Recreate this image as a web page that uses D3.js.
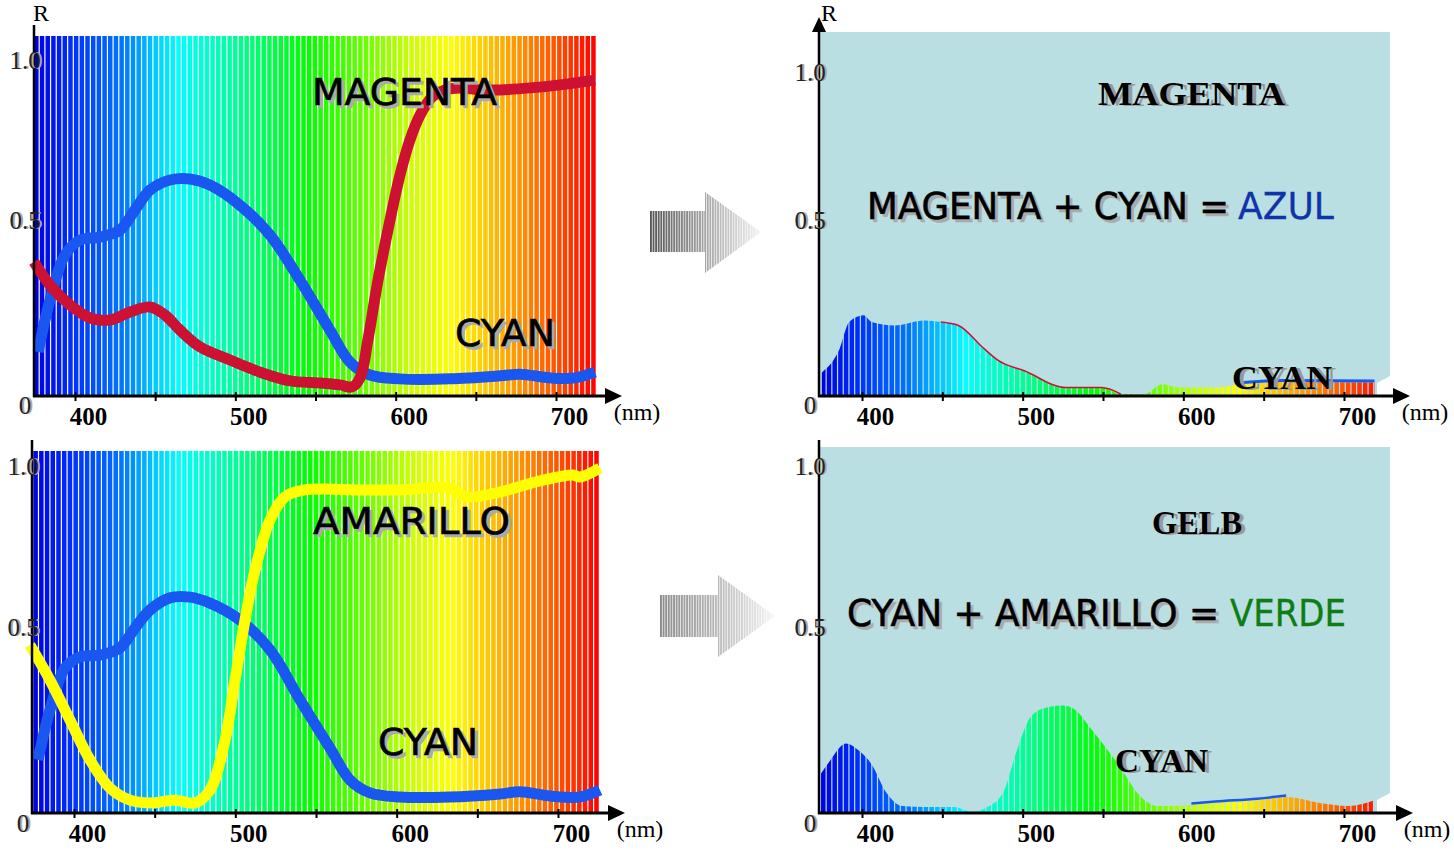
<!DOCTYPE html>
<html><head><meta charset="utf-8">
<script src="https://cdn.jsdelivr.net/npm/d3@7"></script>
<style>body{margin:0;background:#fff}svg{display:block}</style>
</head><body>
<svg id="c" width="1454" height="850"></svg>
<script>
// ---------------- data ----------------
const xTicks = [400, 450, 500, 550, 600, 650, 700];
const xLabelValues = [400, 500, 600, 700];
const yTickValues = [0, 0.5, 1.0];
const yTickLabels = ["0", "0.5", "1.0"];

// top-left: cyan and magenta reflectance
const cyanTopNm = [377, 384.4, 393.8, 403.1, 415.6, 428.1, 437.4, 446.8, 459.3, 471.7, 484.2, 502.9, 521.6, 540.3, 559, 571.5, 584, 602.7, 633.9, 665.1, 677.6, 696.3, 711.9, 724.3];
const cyanTopR  = [0.131, 0.286, 0.42, 0.464, 0.473, 0.494, 0.554, 0.613, 0.643, 0.646, 0.628, 0.568, 0.479, 0.345, 0.196, 0.101, 0.0625, 0.051, 0.051, 0.06, 0.065, 0.054, 0.054, 0.071];
const magentaNm = [374.4, 384.4, 396.9, 409.4, 421.8, 434.3, 446.8, 456.1, 465.5, 478, 496.7, 515.4, 534.1, 552.8, 565.3, 572.8, 577.8, 582.7, 589, 596.5, 602.7, 608.9, 615.2, 622.7, 630.8, 640.1, 652.6, 665.1, 683.8, 702.5, 724.3];
const magentaR  = [0.399, 0.33, 0.271, 0.232, 0.226, 0.25, 0.265, 0.241, 0.196, 0.146, 0.107, 0.071, 0.045, 0.039, 0.033, 0.027, 0.054, 0.167, 0.345, 0.524, 0.658, 0.762, 0.836, 0.89, 0.911, 0.917, 0.911, 0.911, 0.917, 0.926, 0.94];

// bottom-left: cyan and yellow (amarillo) reflectance
const cyanBotNm = [377.7, 385.1, 394.4, 403.7, 416.1, 428.5, 437.8, 447.1, 459.5, 471.9, 484.3, 502.9, 521.5, 540.1, 558.7, 571.1, 583.5, 602.1, 633.1, 664, 676.4, 695, 713.6, 726];
const cyanBotR  = [0.153, 0.297, 0.418, 0.45, 0.455, 0.476, 0.533, 0.585, 0.62, 0.622, 0.605, 0.556, 0.47, 0.326, 0.187, 0.095, 0.058, 0.046, 0.046, 0.055, 0.061, 0.049, 0.046, 0.066];
const yellowNm  = [372.7, 385.1, 397.5, 409.9, 422.3, 434.7, 447.1, 462.6, 475, 484.3, 493.6, 499.8, 506, 512.2, 521.5, 530.8, 543.2, 577.3, 602.1, 620.7, 631.2, 643.6, 664, 688.8, 709.3, 713.6, 726];
const yellowR   = [0.484, 0.383, 0.268, 0.153, 0.072, 0.037, 0.029, 0.037, 0.029, 0.066, 0.21, 0.383, 0.556, 0.7, 0.844, 0.911, 0.931, 0.931, 0.931, 0.937, 0.939, 0.911, 0.925, 0.957, 0.974, 0.968, 0.994];

// top-right: magenta + cyan result
const blueResNm = [375, 386, 392, 401, 406, 420, 439, 449, 460, 475, 485, 501, 527, 549, 561, 576, 587, 597, 620, 636, 662, 719];
const blueResR  = [0.07, 0.14, 0.22, 0.24, 0.22, 0.21, 0.225, 0.22, 0.21, 0.145, 0.105, 0.075, 0.025, 0.025, 0.006, 0.006, 0.035, 0.025, 0.025, 0.035, 0.042, 0.04];

// bottom-right: cyan + yellow result
const greenResNm = [374, 380, 390, 398, 406, 415, 425, 439, 457, 469, 478, 488, 496, 504, 512, 525, 532, 543, 558, 574, 584, 594, 605, 620, 646, 664, 685, 703, 718];
const greenResR  = [0.11, 0.15, 0.2, 0.18, 0.14, 0.06, 0.02, 0.017, 0.017, 0.003, 0.017, 0.06, 0.175, 0.27, 0.3, 0.31, 0.3, 0.24, 0.15, 0.045, 0.02, 0.02, 0.023, 0.029, 0.037, 0.046, 0.029, 0.02, 0.035];

// spectrum colour stops (style)
const spectrumNm    = [375, 400, 430, 455, 465, 500, 545, 580, 610, 635, 655, 675, 700, 725];
const spectrumColor = ["#0000e0","#0033ff","#0077ff","#00ddff","#00ffff","#00ff99","#00ff00","#66ff00","#ccff00","#ffff00","#ffcc00","#ff9900","#ff5500","#ff0000"];

// ---------------- drawing ----------------
const svg = d3.select("#c");
const spec = d3.scaleLinear().domain(spectrumNm).range(spectrumColor).interpolate(d3.interpolateRgb).clamp(true);
const SERIF = "'Liberation Serif','Times New Roman',serif";
const COMIC = "'DejaVu Sans','Noto Sans',sans-serif";
const CYANC = "#1a56f0", MAGC = "#cc1133", YELC = "#ffff00", BG = "#b9dfe3";

const zip = (a, b) => a.map((v, i) => [v, b[i]]);

const panels = [
  {id:"tl", axisX:34,  axisY:396, xr:[75,556],   y1:60,  tip:622,  yTop:25,  yArrow:false, lshift:[9,-8,0],   rX:41,  rY:13, nmX:637},
  {id:"bl", axisX:32,  axisY:813, xr:[74,558],   y1:466, tip:625,  yTop:440, yArrow:false, lshift:[10,-12,0], nmX:640},
  {id:"tr", axisX:819, axisY:396, xr:[862,1344], y1:60,  tip:1410, yTop:17,  yArrow:true,  lshift:[9,-8,12],  rX:829, rY:13, nmX:1425},
  {id:"br", axisX:819, axisY:813, xr:[862,1344], y1:466, tip:1413, yTop:440, yArrow:false, lshift:[10,-12,0], nmX:1427}
];
panels.forEach(p => {
  p.x = d3.scaleLinear().domain([400,700]).range(p.xr);
  p.y = d3.scaleLinear().domain([0,1]).range([p.axisY, p.y1]);
});
const P = Object.fromEntries(panels.map(p => [p.id, p]));

function stripes(g, p, nm0, nm1, yT, yB) {
  const x0 = p.x(nm0), x1 = p.x(nm1);
  const n = Math.round((x1 - x0) / 5.7), w = (x1 - x0) / n;
  g.selectAll(null).data(d3.range(n)).join("rect")
    .attr("x", i => x0 + i * w).attr("y", yT)
    .attr("width", w - 1.2).attr("height", yB - yT)
    .attr("fill", i => spec(p.x.invert(x0 + (i + 0.5) * w)));
}

function shadowText(opt) {
  const g = svg.append("g");
  const mk = (dx, dy, fill) => {
    const t = g.append("text").attr("x", opt.x + dx).attr("y", opt.cy + dy + opt.size * 0.36)
      .attr("font-family", opt.family).attr("font-size", opt.size)
      .attr("font-weight", opt.weight || "normal").attr("fill", fill)
      .attr("text-anchor", opt.anchor || "start").text(opt.text);
    if (opt.width) t.attr("textLength", opt.width).attr("lengthAdjust", "spacingAndGlyphs");
    if (opt.stroke && fill !== opt.shadowColor) t.attr("stroke", fill).attr("stroke-width", opt.stroke);
    if (opt.stroke && fill === opt.shadowColor) t.attr("stroke", fill).attr("stroke-width", opt.stroke);
    return t;
  };
  if (opt.shadow) mk(opt.shadow[0], opt.shadow[1], opt.shadowColor || "#aaa");
  mk(0, 0, opt.fill || "#000");
}

// --- left panels: spectrum backgrounds ---
stripes(svg.append("g"), P.tl, 374.5, 725.5, 36, P.tl.axisY);
stripes(svg.append("g"), P.bl, 374.8, 726, 451, P.bl.axisY);

// --- right panels: light blue backgrounds ---
function bgPoly(p, top, right) {
  const pts = [[p.axisX, top],[right, top],[right, p.axisY - 20],[right - 13, p.axisY - 13],[right - 13, p.axisY],[p.axisX, p.axisY]];
  svg.append("polygon").attr("points", pts.map(d => d.join(",")).join(" ")).attr("fill", BG);
}
bgPoly(P.tr, 32, 1390);
bgPoly(P.br, 447, 1390);

// --- right panels: result areas filled with the spectrum ---
function resultArea(p, nm, r, id) {
  const data = zip(nm, r);
  const area = d3.area().x(d => p.x(d[0])).y0(p.axisY).y1(d => p.y(d[1])).curve(d3.curveMonotoneX);
  svg.append("clipPath").attr("id", id).append("path").attr("d", area(data));
  const g = svg.append("g").attr("clip-path", `url(#${id})`);
  stripes(g, p, 374.5, 726, p.y1, p.axisY);
  return data;
}
const blueData = resultArea(P.tr, blueResNm, blueResR, "clipTR");
const greenData = resultArea(P.br, greenResNm, greenResR, "clipBR");
// thin edge lines where original curves show at the top
const edge = p => d3.line().x(d => p.x(d[0])).y(d => p.y(d[1])).curve(d3.curveMonotoneX);
svg.append("path").attr("d", edge(P.tr)(blueData.filter(d => d[0] >= 449 && d[0] <= 561)))
  .attr("fill","none").attr("stroke", MAGC).attr("stroke-width", 1.5);
svg.append("path").attr("d", edge(P.tr)(blueData.filter(d => d[0] >= 636)))
  .attr("fill","none").attr("stroke", CYANC).attr("stroke-width", 3).attr("transform","translate(0,-1.5)");
svg.append("path").attr("d", edge(P.br)(greenData.filter(d => d[0] >= 605 && d[0] <= 664)))
  .attr("fill","none").attr("stroke", CYANC).attr("stroke-width", 2.5).attr("transform","translate(0,-1.5)");

// --- left panels: thick curves ---
function curve(p, nm, r, color) {
  const line = d3.line().x(d => p.x(d[0])).y(d => p.y(d[1])).curve(d3.curveCatmullRom.alpha(0.5));
  svg.append("path").attr("d", line(zip(nm, r))).attr("fill","none")
    .attr("stroke", color).attr("stroke-width", 11).attr("stroke-linejoin","round").attr("stroke-linecap","butt");
}
curve(P.tl, cyanTopNm, cyanTopR, CYANC);
curve(P.tl, magentaNm, magentaR, MAGC);
curve(P.bl, cyanBotNm, cyanBotR, CYANC);
curve(P.bl, yellowNm, yellowR, YELC);

// --- axes ---
panels.forEach(p => {
  // y axis line
  svg.append("line").attr("x1", p.axisX).attr("x2", p.axisX)
    .attr("y1", p.yArrow ? p.yTop + 12 : p.yTop).attr("y2", p.axisY + 1)
    .attr("stroke", "#000").attr("stroke-width", 2.5);
  if (p.yArrow) svg.append("polygon")
    .attr("points", `${p.axisX},${p.yTop} ${p.axisX-7},${p.yTop+15} ${p.axisX+7},${p.yTop+15}`).attr("fill","#000");
  // x axis line + arrow
  svg.append("line").attr("x1", p.axisX - 1).attr("x2", p.tip - 12).attr("y1", p.axisY).attr("y2", p.axisY)
    .attr("stroke", "#000").attr("stroke-width", 3);
  svg.append("polygon")
    .attr("points", `${p.tip},${p.axisY} ${p.tip-17},${p.axisY-8} ${p.tip-17},${p.axisY+8}`).attr("fill","#000");
  // ticks & labels via d3 axis
  const g = svg.append("g").attr("transform", `translate(0,${p.axisY})`);
  g.call(d3.axisBottom(p.x).tickValues(xTicks).tickSize(0)
    .tickFormat(d => xLabelValues.includes(d) ? String(d) : ""));
  g.select(".domain").remove();
  g.selectAll(".tick line").attr("y1", -4).attr("y2", 5).attr("stroke", "#000").attr("stroke-width", 2);
  g.selectAll(".tick text").attr("x", 13).attr("y", 20).attr("dy", "0.35em")
    .attr("font-family", SERIF).attr("font-size", 25).attr("font-weight", "bold").attr("fill", "#000");
  // (nm)
  svg.append("text").attr("x", p.nmX).attr("y", p.axisY + 16).attr("dy","0.35em")
    .attr("text-anchor","middle").attr("font-family", SERIF).attr("font-size", 24).text("(nm)");
  // y labels
  yTickValues.forEach((v, i) => {
    const cy = p.y(v) + p.lshift[i];
    [["#aaa", 2], ["#222", 0]].forEach(([c, dx]) => {
      svg.append("text").attr("x", p.axisX - 9 + dx).attr("y", cy).attr("dy", "0.35em")
        .attr("text-anchor", "middle").attr("font-family", SERIF).attr("font-size", 25)
        .attr("fill", c).text(yTickLabels[i]);
    });
  });
  if (p.rX) svg.append("text").attr("x", p.rX).attr("y", p.rY).attr("dy","0.35em")
    .attr("text-anchor","middle").attr("font-family", SERIF).attr("font-size", 24).text("R");
});

// --- labels ---
const comic = {family: COMIC, size: 37, shadow: [3, 3], shadowColor: "#aaa", stroke: 0.6};
shadowText({...comic, x: 312, cy: 92,  text: "MAGENTA", width: 185});
shadowText({...comic, x: 455, cy: 333, text: "CYAN", width: 100});
shadowText({...comic, x: 313, cy: 521, text: "AMARILLO", width: 197});
shadowText({...comic, x: 378, cy: 742, text: "CYAN", width: 100});
shadowText({...comic, x: 867, cy: 206, text: "MAGENTA + CYAN =", width: 362});
shadowText({...comic, x: 1238, cy: 206, text: "AZUL", width: 96, fill: "#1133aa", shadow: null, stroke: 0.3});
shadowText({...comic, x: 847, cy: 613, text: "CYAN + AMARILLO =", width: 372});
shadowText({...comic, x: 1230, cy: 613, text: "VERDE", width: 116, fill: "#0e7d12", shadow: null, stroke: 0.3});

const bold = {family: SERIF, size: 34, weight: "bold", shadow: [4, 1], shadowColor: "#999"};
shadowText({...bold, x: 1098, cy: 93,  text: "MAGENTA", width: 187});
shadowText({...bold, x: 1232, cy: 377, text: "CYAN", width: 100});
shadowText({...bold, x: 1152, cy: 522, text: "GELB", width: 90});
shadowText({...bold, x: 1115, cy: 760, text: "CYAN", width: 93});

// --- gray arrows between panels ---
function grayArrow(pts, x0, xm, x1, c0, cm, c1, id) {
  svg.append("clipPath").attr("id", id).append("polygon").attr("points", pts.map(d => d.join(",")).join(" "));
  const col = d3.scaleLinear().domain([x0, xm, x1]).range([c0, cm, c1]);
  const g = svg.append("g").attr("clip-path", `url(#${id})`);
  const n = Math.round((x1 - x0) / 2.6), w = (x1 - x0) / n;
  const ys = pts.map(d => d[1]);
  g.selectAll(null).data(d3.range(n)).join("rect")
    .attr("x", i => x0 + i * w).attr("y", d3.min(ys)).attr("width", w - 0.7)
    .attr("height", d3.max(ys) - d3.min(ys)).attr("fill", i => col(x0 + (i + 0.5) * w));
}
grayArrow([[650,211],[705,211],[705,192],[761,232],[705,273],[705,252],[650,252]], 650, 705, 761, "#555", "#a6a6a6", "#f2f2f2", "arrTop");
grayArrow([[660,595],[718,595],[718,575],[775,616],[718,657],[718,637],[660,637]], 660, 718, 775, "#8a8a8a", "#bababa", "#f5f5f5", "arrBot");
</script>
</body></html>
